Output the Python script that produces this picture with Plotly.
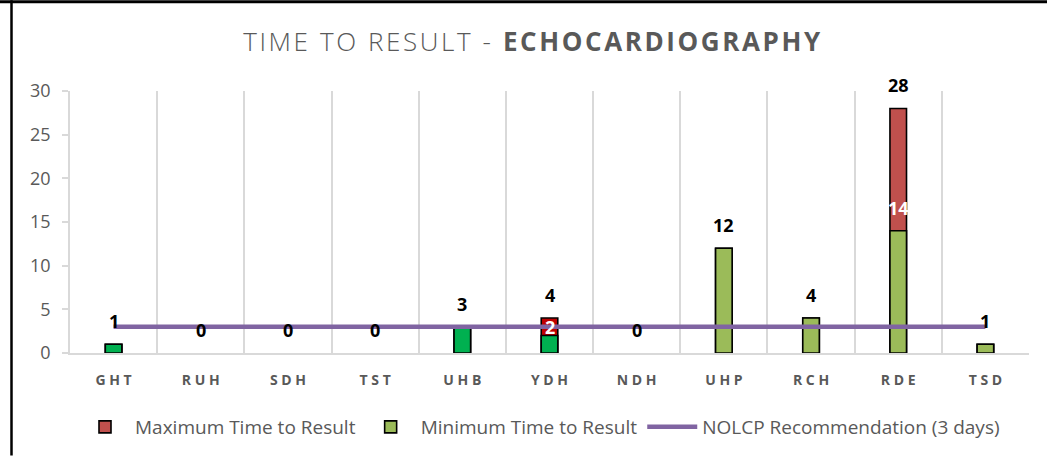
import plotly.graph_objects as go

# Trust sites and their turnaround times (days)
sites = ["GHT", "RUH", "SDH", "TST", "UHB", "YDH", "NDH", "UHP", "RCH", "RDE", "TSD"]
max_days = [1, 0, 0, 0, 3, 4, 0, 12, 4, 28, 1]
min_days = [1, 0, 0, 0, 3, 2, 0, 12, 4, 14, 1]
recommended_days = [3] * len(sites)

# Fill colours per bar
max_colors = ["#C0504D", "#C0504D", "#C0504D", "#C0504D", "#C0504D", "#C00000",
              "#C0504D", "#C0504D", "#C0504D", "#C0504D", "#C0504D"]
min_colors = ["#00B050", "#9BBB59", "#9BBB59", "#9BBB59", "#00B050", "#00B050",
              "#9BBB59", "#9BBB59", "#9BBB59", "#9BBB59", "#9BBB59"]

W, H = 1047, 457
M_L, M_R, M_T, M_B = 70, 18, 91, 103
Y_MAX = 30
plot_h = H - M_T - M_B
plot_w = W - M_L - M_R
px_per_unit = plot_h / Y_MAX

GREY = "#595959"
FONT = "Open Sans"
OUTLINE = 1.6


def outline_widths(values):
    # no outline on empty bars
    return [OUTLINE if v > 0 else 0 for v in values]


fig = go.Figure()

fig.add_trace(go.Bar(
    x=sites, y=max_days, name="Maximum Time to Result", showlegend=False,
    marker=dict(color=max_colors, line=dict(color="#000000", width=outline_widths(max_days))),
    width=0.19,
))
fig.add_trace(go.Bar(
    x=sites, y=min_days, name="Minimum Time to Result", showlegend=False,
    marker=dict(color=min_colors, line=dict(color="#000000", width=outline_widths(min_days))),
    width=0.19,
))
fig.add_trace(go.Scatter(
    x=sites, y=recommended_days, mode="lines", showlegend=False,
    name="NOLCP Recommendation (3 days)",
    line=dict(color="#8064A2", width=4.5),
))

# Legend entries with the series' base colours
legend_entries = [
    ("Maximum Time to Result", "bar", "#C0504D"),
    ("Minimum Time to Result", "bar", "#9BBB59"),
    ("NOLCP Recommendation (3 days)", "line", "#8064A2"),
]
for label, kind, color in legend_entries:
    if kind == "bar":
        fig.add_trace(go.Bar(
            x=[None], y=[None], name=label, showlegend=True,
            marker=dict(color=color, line=dict(color="#000000", width=OUTLINE)),
        ))
    else:
        fig.add_trace(go.Scatter(
            x=[None], y=[None], mode="lines", name=label, showlegend=True,
            line=dict(color=color, width=4.5),
        ))

annotations = []
# Maximum values above each bar
for s, v in zip(sites, max_days):
    annotations.append(dict(
        x=s, y=v, xref="x", yref="y", text=f"<b>{v}</b>", showarrow=False,
        yanchor="middle", yshift=23,
        font=dict(family=FONT, size=18, color="#000000"),
    ))
# Minimum values shown inside the red part where the range is non-zero
for s, lo, hi in zip(sites, min_days, max_days):
    if hi > lo:
        shift = min(23, (hi - lo) * px_per_unit / 2)
        annotations.append(dict(
            x=s, y=lo, xref="x", yref="y", text=f"<b>{lo}</b>", showarrow=False,
            yanchor="middle", yshift=shift,
            font=dict(family=FONT, size=18, color="#FFFFFF"),
        ))

# Frame lines on the top and left edges of the chart
shapes = [
    dict(type="line", xref="paper", yref="paper",
         x0=(0 - M_L) / plot_w, x1=(W - M_L) / plot_w,
         y0=(H - M_B - 1.5) / plot_h, y1=(H - M_B - 1.5) / plot_h,
         line=dict(color="#000000", width=3)),
    dict(type="line", xref="paper", yref="paper",
         x0=(11.5 - M_L) / plot_w, x1=(11.5 - M_L) / plot_w,
         y0=(H - M_B) / plot_h, y1=(-M_B) / plot_h,
         line=dict(color="#000000", width=2.5)),
]

fig.update_layout(
    width=W, height=H,
    margin=dict(l=M_L, r=M_R, t=M_T, b=M_B),
    paper_bgcolor="white", plot_bgcolor="white",
    barmode="overlay",
    showlegend=True,
    title=dict(
        text='<span style="letter-spacing:2.6px">TIME TO RESULT - <b>ECHOCARDIOGRAPHY</b></span>',
        x=533 / W, xref="container", xanchor="center",
        y=1 - 42 / H, yref="container", yanchor="middle",
        font=dict(family=FONT, size=26, color=GREY, weight=300),
    ),
    xaxis=dict(
        type="category", tickson="boundaries",
        tickvals=sites, ticktext=[" ".join(s) for s in sites],
        showgrid=True, gridcolor="#D9D9D9", gridwidth=1.5,
        showline=True, linecolor="#D9D9D9", linewidth=1.5,
        ticks="", ticklabelstandoff=13,
        tickfont=dict(family=FONT, size=14, color=GREY, weight="bold"),
        range=[-0.5, len(sites) - 0.5],
    ),
    yaxis=dict(
        range=[0, Y_MAX], dtick=5,
        showgrid=False, zeroline=False,
        showline=True, linecolor="#D9D9D9", linewidth=1.5,
        ticks="outside", ticklen=6, tickcolor="#D9D9D9", tickwidth=1.5,
        ticklabelstandoff=8,
        tickfont=dict(family=FONT, size=18, color=GREY),
    ),
    legend=dict(
        orientation="h", x=(540 - M_L) / plot_w, xanchor="center",
        y=(H - M_B - 427) / plot_h, yanchor="middle",
        font=dict(family=FONT, size=19, color=GREY),
        itemwidth=50,
        traceorder="normal",
    ),
    annotations=annotations,
    shapes=shapes,
)

fig.write_html("out.html")
